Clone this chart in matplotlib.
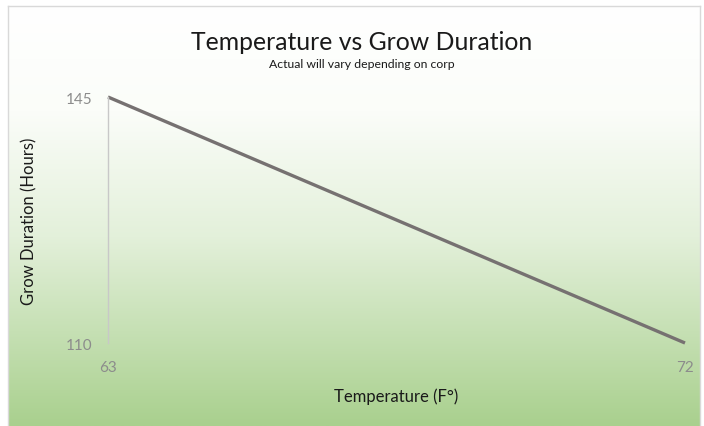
import numpy as np
import matplotlib
matplotlib.use("Agg")
import matplotlib.pyplot as plt
from matplotlib.colors import LinearSegmentedColormap

# data
temperature = [63, 72]
grow_hours = [145, 110]
x_ticks = [63, 72]
y_ticks = [110, 145]

plt.rcParams['font.family'] = ['Lato', 'DejaVu Sans']

W, H = 704, 427
fig = plt.figure(figsize=(W / 100, H / 100), dpi=100)
fig.patch.set_facecolor('white')

# background panel with white -> green gradient
bg = fig.add_axes([8 / W, 0, (700 - 8) / W, (H - 7) / H])
cmap = LinearSegmentedColormap.from_list(
    'bg', [(0.0, '#ffffff'), (0.25, '#fbfdf9'), (0.55, '#e3f0da'), (1.0, '#a9d08e')])
grad = np.linspace(0, 1, 256).reshape(-1, 1)
bg.imshow(grad, aspect='auto', cmap=cmap, extent=[0, 1, 0, 1], origin='upper')
bg.set_xlim(0, 1)
bg.set_ylim(0, 1)
for side in ['left', 'top', 'right']:
    bg.spines[side].set_color('#d9d9d9')
    bg.spines[side].set_linewidth(1)
bg.spines['bottom'].set_visible(False)
bg.set_xticks([])
bg.set_yticks([])

# plot area: x 108..685, y 98..344 (pixels from top)
ax = fig.add_axes([108 / W, (H - 344) / H, (685 - 108) / W, (344 - 98) / H])
ax.patch.set_alpha(0)
ax.plot(temperature, grow_hours, color='#767171', lw=2.4, solid_capstyle='butt', clip_on=False)
ax.set_xlim(63, 72)
ax.set_ylim(110, 145)
ax.set_xticks(x_ticks)
ax.set_yticks(y_ticks)
ax.tick_params(length=0, labelsize=11, colors='#8c8c8c')
ax.tick_params(axis='x', pad=12)
ax.tick_params(axis='y', pad=11.5)
for side in ['top', 'right', 'bottom']:
    ax.spines[side].set_visible(False)
ax.spines['left'].set_color('#c8c8c8')
ax.spines['left'].set_linewidth(1)

ax.set_xlabel('Temperature (F°)', fontsize=12, color='#1a1a1a', labelpad=10)
ax.set_ylabel('Grow Duration (Hours)', fontsize=12, color='#1a1a1a', labelpad=20)

fig.text(362 / W, 1 - 42 / H, 'Temperature vs Grow Duration', ha='center', va='center',
         fontsize=17.8, color='#1a1a1a')
fig.text(362 / W, 1 - 65 / H, 'Actual will vary depending on corp', ha='center', va='center',
         fontsize=8.8, color='#1a1a1a')

fig.savefig('out.png', dpi=100)
